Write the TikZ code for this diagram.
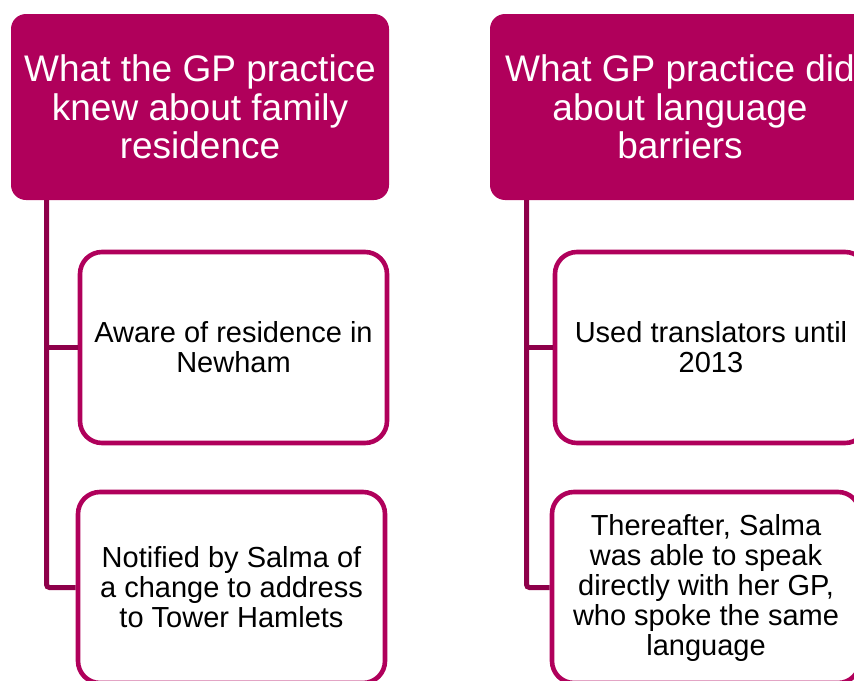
\documentclass[tikz,border=0pt]{standalone}
\usepackage{fontspec}
\setmainfont{Liberation Sans}
\definecolor{plum}{RGB}{176,0,91}
\definecolor{plumdark}{RGB}{142,0,74}
\begin{document}
\begin{tikzpicture}[x=1pt,y=-1pt,
  headbox/.style={fill=plum, draw=none, rounded corners=15pt, inner sep=0pt,
    minimum height=186pt, text=white, align=center,
    font=\fontsize{37}{38.5}\selectfont},
  childbox/.style={fill=white, draw=plum, line width=4.6pt, rounded corners=22pt,
    inner sep=0pt, minimum width=307pt, minimum height=191pt, text=black, align=center,
    font=\fontsize{29}{30}\selectfont},
  conn/.style={draw=plumdark, line width=5pt, rounded corners=3pt}]
\useasboundingbox (0,0) rectangle (854,680);
% left column
\node[headbox, minimum width=378pt] (h1) at (200,107) {What the GP practice\\knew about family\\residence};
\node[childbox] (c1) at (233.5,347.5) {Aware of residence in\\Newham};
\node[childbox] (c2) at (231.5,587.5) {Notified by Salma of\\a change to address\\to Tower Hamlets};
\coordinate (l1) at (46.5,0);
\draw[conn] (h1.south -| l1) -- (c2.west -| l1) -- (c2.west);
\draw[conn, rounded corners=0pt] (c1.west -| l1) -- (c1.west);
% right column
\node[headbox, minimum width=380pt] (h2) at (680,107) {What GP practice did\\about language\\barriers};
\node[childbox, minimum width=312pt] (c3) at (711,347.5) {Used translators until\\2013};
\node[childbox, minimum width=308pt] (c4) at (706,587.5) {Thereafter, Salma\\was able to speak\\directly with her GP,\\who spoke the same\\language};
\coordinate (l2) at (526.5,0);
\draw[conn] (h2.south -| l2) -- (c4.west -| l2) -- (c4.west);
\draw[conn, rounded corners=0pt] (c3.west -| l2) -- (c3.west);
\end{tikzpicture}
\end{document}
